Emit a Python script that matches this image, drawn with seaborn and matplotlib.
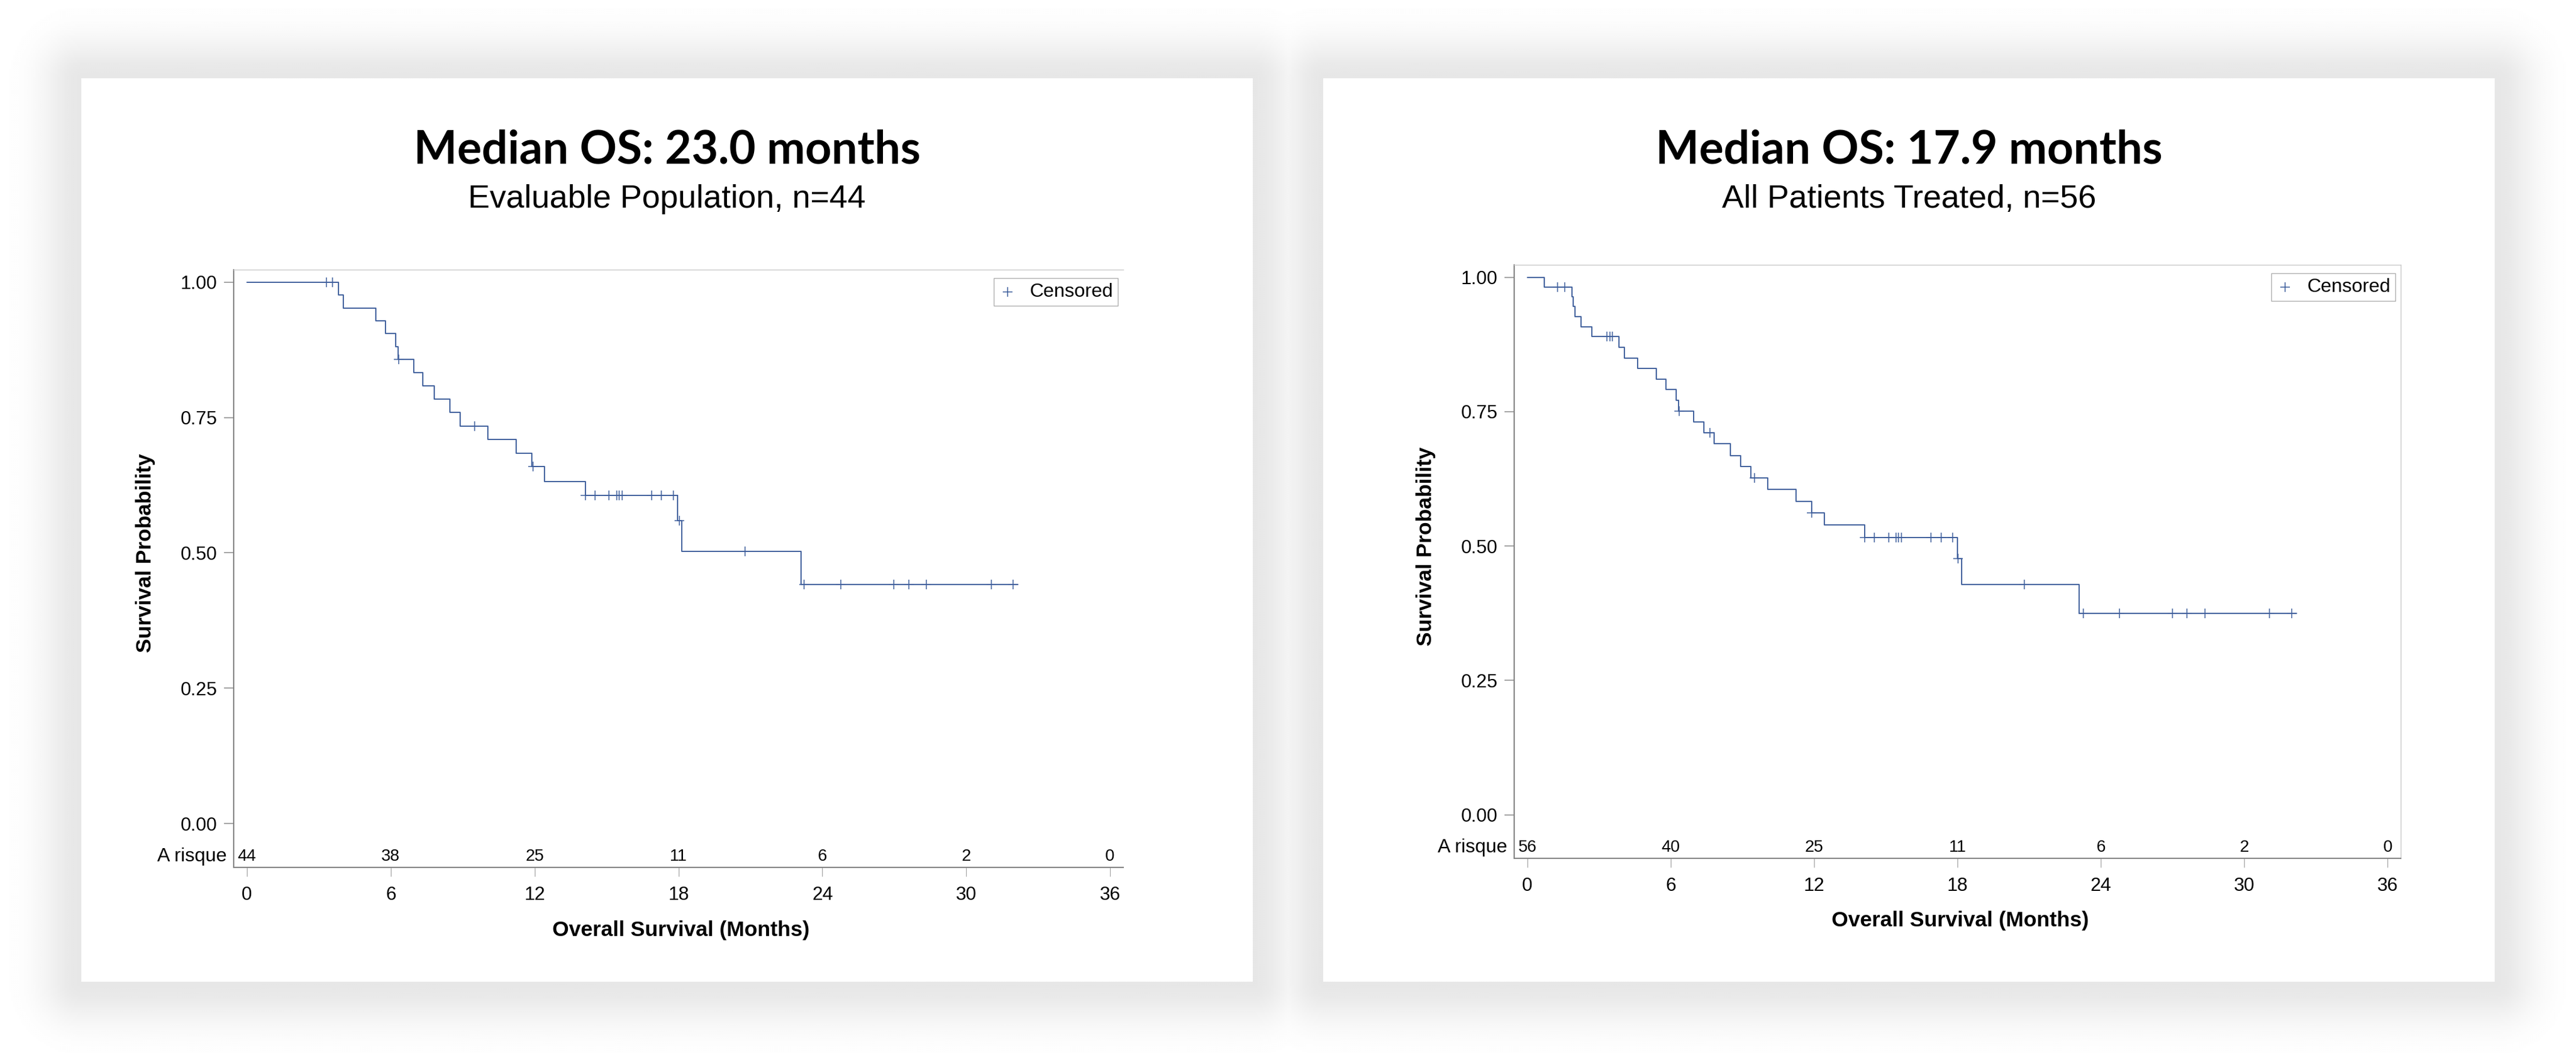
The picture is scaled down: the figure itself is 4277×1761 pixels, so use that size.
import numpy as np
import pandas as pd
import matplotlib
matplotlib.use('Agg')
import matplotlib.pyplot as plt
import matplotlib.transforms as mtransforms
from matplotlib.patches import Rectangle
import seaborn as sns

# ---- values ----
risk_months = [0, 6, 12, 18, 24, 30, 36]

# left panel: evaluable population
left_event_months = [3.82, 4.02, 5.38, 5.77, 6.20, 6.31, 6.95, 7.34, 7.81, 8.47, 8.89,
                     10.04, 11.22, 11.89, 12.40, 14.12, 17.95, 18.14, 23.10]
left_surv = [0.976, 0.952, 0.929, 0.905, 0.881, 0.857, 0.833, 0.808, 0.784, 0.759, 0.734,
             0.709, 0.684, 0.659, 0.632, 0.606, 0.559, 0.503, 0.441]
left_last_month = 32.16
left_cens_months = [3.32, 3.57, 6.33, 9.50, 11.93, 14.12, 14.51, 15.11, 15.42, 15.53, 15.66,
                    16.87, 17.29, 17.79, 18.03, 20.77, 23.24, 24.76, 26.98, 27.60, 28.34,
                    31.04, 31.96]
left_cens_surv = [1.0, 1.0, 0.857, 0.734, 0.659, 0.606, 0.606, 0.606, 0.606, 0.606, 0.606,
                  0.606, 0.606, 0.606, 0.559, 0.503, 0.441, 0.441, 0.441, 0.441, 0.441,
                  0.441, 0.441]
left_at_risk = [44, 38, 25, 11, 6, 2, 0]

# right panel: all patients treated
right_event_months = [0.70, 1.87, 1.93, 1.99, 2.25, 2.71, 3.84, 4.06, 4.61, 5.40, 5.80, 6.22,
                      6.34, 6.97, 7.38, 7.83, 8.50, 8.92, 9.35, 10.06, 11.25, 11.90, 12.42,
                      14.13, 17.99, 18.18, 23.10]
right_surv = [0.982, 0.964, 0.946, 0.927, 0.908, 0.890, 0.870, 0.850, 0.830, 0.810, 0.791,
              0.771, 0.751, 0.731, 0.711, 0.690, 0.668, 0.648, 0.627, 0.605, 0.583, 0.562,
              0.539, 0.516, 0.477, 0.429, 0.375]
right_last_month = 32.18
right_cens_months = [1.26, 1.57, 3.34, 3.45, 3.57, 6.36, 7.65, 9.50, 11.90, 14.13, 14.52,
                     15.13, 15.42, 15.54, 15.65, 16.90, 17.32, 17.80, 18.03, 20.80, 23.28,
                     24.79, 26.99, 27.61, 28.37, 31.05, 31.98]
right_cens_surv = [0.982, 0.982, 0.890, 0.890, 0.890, 0.751, 0.711, 0.627, 0.562, 0.516,
                   0.516, 0.516, 0.516, 0.516, 0.516, 0.516, 0.516, 0.516, 0.477, 0.429,
                   0.375, 0.375, 0.375, 0.375, 0.375, 0.375, 0.375]
right_at_risk = [56, 40, 25, 11, 6, 2, 0]

titles = ['Median OS: 23.0 months', 'Median OS: 17.9 months']
subtitles = ['Evaluable Population, n=44', 'All Patients Treated, n=56']

# ---- figure set-up ----
W, H = 4277, 1761
sns.set_theme(style='white')
plt.rcParams['font.family'] = ['Liberation Sans', 'DejaVu Sans']
plt.rcParams['text.color'] = 'black'
plt.rcParams['axes.labelcolor'] = 'black'
plt.rcParams['xtick.color'] = 'black'
plt.rcParams['ytick.color'] = 'black'
BLUE = '#3f5f9c'

fig = plt.figure(figsize=(W / 100, H / 100), dpi=100)

# white cards with a soft grey shadow behind them
cards = [(135, 130, 2080, 1631), (2197, 130, 4142, 1631)]
bg = fig.add_axes([0, 0, 1, 1])
yy, xx = np.mgrid[0:H:3, 0:W:3]
shade = np.zeros(xx.shape)
for x0, y0, x1, y1 in cards:
    dx = np.maximum(np.maximum(x0 - xx, xx - x1), 0)
    dy = np.maximum(np.maximum(y0 - yy, yy - y1), 0)
    shade = np.maximum(shade, 0.095 * np.exp(-(np.hypot(dx, dy) / 66.0) ** 2))
bg.imshow(1 - shade, cmap='gray', vmin=0, vmax=1, extent=(0, W, H, 0),
          interpolation='bilinear', aspect='auto')
for x0, y0, x1, y1 in cards:
    bg.add_patch(Rectangle((x0, y0), x1 - x0, y1 - y0, facecolor='white', edgecolor='none'))
bg.set_xlim(0, W)
bg.set_ylim(H, 0)
bg.axis('off')


def km_panel(box, event_months, surv, last_month, cens_months, cens_surv, at_risk, show_right):
    # box in pixels: left, top, right, bottom
    l, t, r, b = box
    ax = fig.add_axes([l / W, 1 - b / H, (r - l) / W, (b - t) / H])

    steps = pd.DataFrame({'month': [0.0] + event_months + [last_month],
                          'surv': [1.0] + surv + [surv[-1]]})
    sns.lineplot(data=steps, x='month', y='surv', drawstyle='steps-post', estimator=None,
                 color=BLUE, linewidth=1.4, ax=ax, legend=False)
    cens = pd.DataFrame({'month': cens_months, 'surv': cens_surv})
    sns.scatterplot(data=cens, x='month', y='surv', marker='+', s=135, color=BLUE,
                    linewidth=1.1, ax=ax, label='Censored', zorder=3)

    ax.set_xlim(-0.55, 36.55)
    ax.set_ylim(-0.081, 1.023)
    ax.set_xticks(risk_months)
    ax.set_yticks([0, 0.25, 0.5, 0.75, 1.0])
    ax.set_yticklabels(['0.00', '0.25', '0.50', '0.75', '1.00'])
    ax.tick_params(axis='y', length=11.5, width=1.1, color='#8a8a8a', labelsize=22.5,
                   pad=8, left=True)
    ax.tick_params(axis='x', length=10.5, width=0.8, color='#a0a0a0', labelsize=22.5,
                   pad=12, bottom=True)

    for side in ['left', 'bottom']:
        ax.spines[side].set_color('#808080')
        ax.spines[side].set_linewidth(1.4)
    ax.spines['top'].set_color('#c8c8c8')
    ax.spines['top'].set_linewidth(1.0)
    ax.spines['right'].set_color('#c8c8c8')
    ax.spines['right'].set_linewidth(1.0)
    ax.spines['right'].set_visible(show_right)

    ax.set_ylabel('Survival Probability', fontsize=25.5, fontweight='bold')
    ax.yaxis.set_label_coords(-0.0995, 0.526)
    ax.yaxis.label.set_verticalalignment('center')
    ax.set_xlabel('Overall Survival (Months)', fontsize=25.5, fontweight='bold')
    ax.xaxis.set_label_coords(0.503, -0.105)
    ax.xaxis.label.set_verticalalignment('center')

    # numbers at risk, inside the frame below zero
    for m, n in zip(risk_months, at_risk):
        ax.text(m, -0.061, str(n), ha='center', va='center', fontsize=20)
    trans = mtransforms.blended_transform_factory(ax.transAxes, ax.transData)
    ax.text(-0.0075, -0.061, 'A risque', transform=trans, ha='right', va='center', fontsize=23)

    leg = ax.legend(loc='upper right', bbox_to_anchor=(1 - 9 / (r - l), 1 - 14 / (b - t)),
                    frameon=True, fancybox=False, fontsize=23, borderaxespad=0,
                    handlelength=0.9, handletextpad=0.7, borderpad=0.25)
    leg.get_frame().set_edgecolor('#9a9a9a')
    leg.get_frame().set_linewidth(1.0)
    return ax


km_panel((388, 448, 1865, 1441), left_event_months, left_surv, left_last_month,
         left_cens_months, left_cens_surv, left_at_risk, False)
km_panel((2514, 440, 3986, 1426), right_event_months, right_surv, right_last_month,
         right_cens_months, right_cens_surv, right_at_risk, True)

# titles, the bold one sized so it spans what it spans in the source
renderer = fig.canvas.get_renderer()
title_objs = []
for (x0, y0, x1, y1), ttl, sub in zip(cards, titles, subtitles):
    cx = (x0 + x1) / 2 / W
    title_objs.append(fig.text(cx, 1 - 272 / H, ttl, ha='center', va='baseline',
                               fontsize=50, fontweight='bold', family=['Lato', 'DejaVu Sans']))
    fig.text(cx, 1 - 345 / H, sub, ha='center', va='baseline', fontsize=39)

tw = title_objs[0].get_window_extent(renderer=renderer).width
for t in title_objs:
    t.set_fontsize(50 * 843 / tw)

fig.savefig('out.png', dpi=100, facecolor='white')
